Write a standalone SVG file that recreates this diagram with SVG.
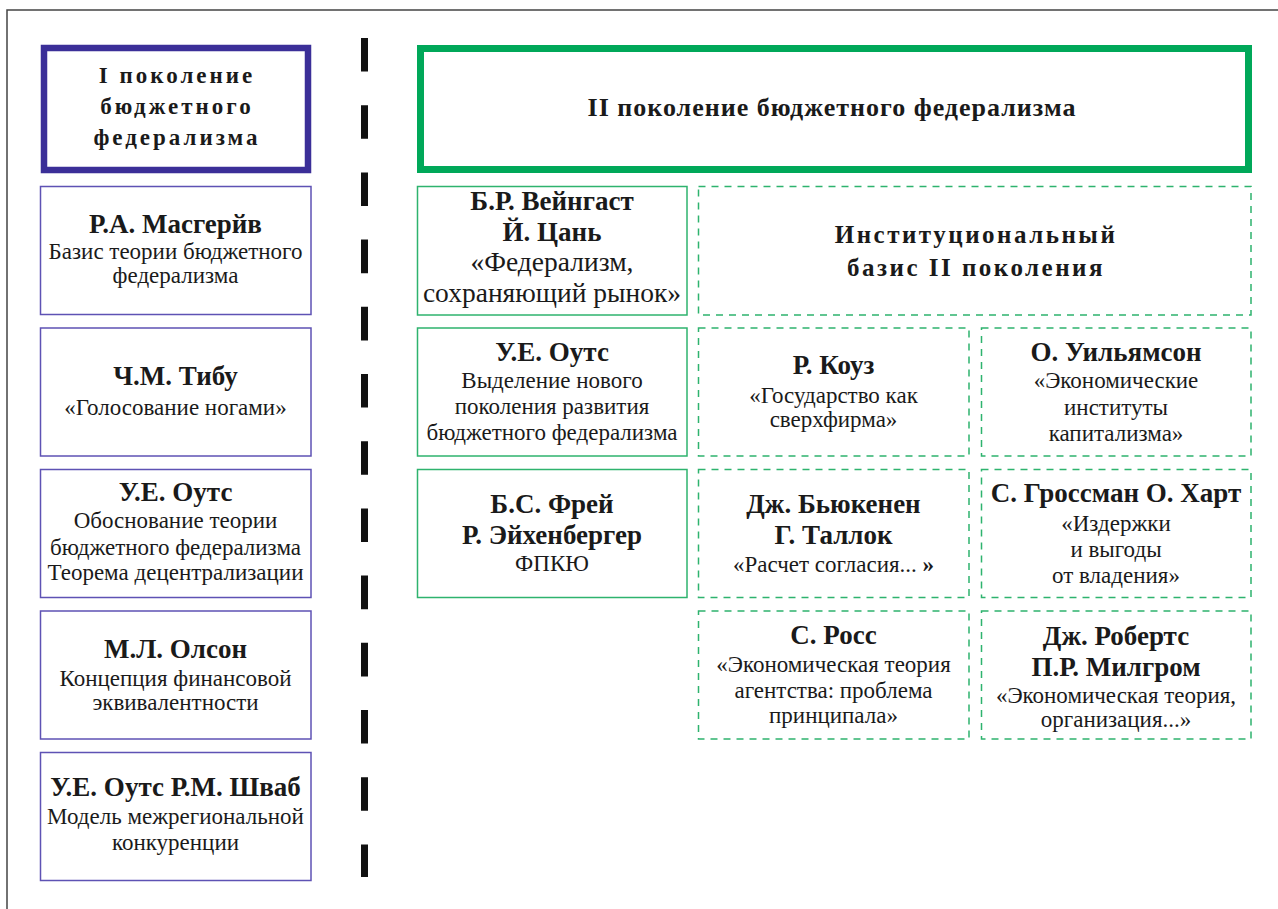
<svg xmlns="http://www.w3.org/2000/svg" width="1278" height="909" viewBox="0 0 1278 909" font-family="Liberation Serif, Times New Roman, serif">
<rect width="1278" height="909" fill="#fff"/>
<g id="frame" fill="none" stroke="#444" stroke-width="1.5">
<path d="M7 909V10H1278"/>
</g>
<g id="connectors">
<line x1="364.5" y1="38" x2="364.5" y2="877" stroke="#111" stroke-width="7" stroke-dasharray="33.6 33.6"/>
</g>
<g id="gen1-title" fill="#1a1a1a" text-anchor="middle" font-weight="bold" font-size="23" letter-spacing="3">
<rect x="44" y="48" width="264" height="122" fill="#fff" stroke="#3b2f98" stroke-width="6.5"/>
<text font-family="Liberation Serif, Times New Roman, serif" x="177" y="83">I поколение</text>
<text font-family="Liberation Serif, Times New Roman, serif" x="177" y="114">бюджетного</text>
<text font-family="Liberation Serif, Times New Roman, serif" x="177" y="145">федерализма</text>
</g>
<g id="musgrave" fill="#1a1a1a" text-anchor="middle" font-size="23">
<rect x="40.5" y="186.5" width="270.5" height="128" fill="#fff" stroke="#5e52b4" stroke-width="1.5"/>
<text font-family="Liberation Serif, Times New Roman, serif" font-weight="bold" font-size="27" x="175.5" y="233">Р.А. Масгерйв</text>
<text font-family="Liberation Serif, Times New Roman, serif" x="175.5" y="259">Базис теории бюджетного</text>
<text font-family="Liberation Serif, Times New Roman, serif" x="175.5" y="283">федерализма</text>
</g>
<g id="tiebout" fill="#1a1a1a" text-anchor="middle" font-size="23">
<rect x="40.5" y="328" width="270.5" height="128" fill="#fff" stroke="#5e52b4" stroke-width="1.5"/>
<text font-family="Liberation Serif, Times New Roman, serif" font-weight="bold" font-size="27" x="175.5" y="385">Ч.М. Тибу</text>
<text font-family="Liberation Serif, Times New Roman, serif" x="175.5" y="415">«Голосование ногами»</text>
</g>
<g id="oates1" fill="#1a1a1a" text-anchor="middle" font-size="23">
<rect x="40.5" y="469.5" width="270.5" height="128" fill="#fff" stroke="#5e52b4" stroke-width="1.5"/>
<text font-family="Liberation Serif, Times New Roman, serif" font-weight="bold" font-size="27" x="175.5" y="501">У.Е. Оутс</text>
<text font-family="Liberation Serif, Times New Roman, serif" x="175.5" y="528">Обоснование теории</text>
<text font-family="Liberation Serif, Times New Roman, serif" x="175.5" y="555">бюджетного федерализма</text>
<text font-family="Liberation Serif, Times New Roman, serif" x="175.5" y="580">Теорема децентрализации</text>
</g>
<g id="olson" fill="#1a1a1a" text-anchor="middle" font-size="23">
<rect x="40.5" y="611" width="270.5" height="128" fill="#fff" stroke="#5e52b4" stroke-width="1.5"/>
<text font-family="Liberation Serif, Times New Roman, serif" font-weight="bold" font-size="27" x="175.5" y="658">М.Л. Олсон</text>
<text font-family="Liberation Serif, Times New Roman, serif" x="175.5" y="686">Концепция финансовой</text>
<text font-family="Liberation Serif, Times New Roman, serif" x="175.5" y="710">эквивалентности</text>
</g>
<g id="oates-schwab" fill="#1a1a1a" text-anchor="middle" font-size="23">
<rect x="40.5" y="752.5" width="270.5" height="128" fill="#fff" stroke="#5e52b4" stroke-width="1.5"/>
<text font-family="Liberation Serif, Times New Roman, serif" font-weight="bold" font-size="27" x="175.5" y="796">У.Е. Оутс Р.М. Шваб</text>
<text font-family="Liberation Serif, Times New Roman, serif" x="175.5" y="824">Модель межрегиональной</text>
<text font-family="Liberation Serif, Times New Roman, serif" x="175.5" y="850">конкуренции</text>
</g>
<g id="gen2-title" fill="#1a1a1a" text-anchor="middle">
<rect x="420.5" y="48.5" width="828" height="121" fill="#fff" stroke="#00a859" stroke-width="7"/>
<text font-family="Liberation Serif, Times New Roman, serif" font-weight="bold" font-size="26" letter-spacing="1" x="832" y="116">II поколение бюджетного федерализма</text>
</g>
<g id="weingast" fill="#1a1a1a" text-anchor="middle" font-size="27.5">
<rect x="417.5" y="186.5" width="269.5" height="128.5" fill="#fff" stroke="#2eb36e" stroke-width="1.5"/>
<text font-family="Liberation Serif, Times New Roman, serif" font-weight="bold" font-size="27" x="552" y="210">Б.Р. Вейнгаст</text>
<text font-family="Liberation Serif, Times New Roman, serif" font-weight="bold" font-size="27" x="552" y="241">Й. Цань</text>
<text font-family="Liberation Serif, Times New Roman, serif" x="552" y="271">«Федерализм,</text>
<text font-family="Liberation Serif, Times New Roman, serif" x="552" y="302">сохраняющий рынок»</text>
</g>
<g id="institutional" fill="#1a1a1a" text-anchor="middle" font-weight="bold" font-size="25" letter-spacing="2.5">
<rect x="698.5" y="186.5" width="552.5" height="128.5" fill="#fff" stroke="#2eb36e" stroke-width="1.5" stroke-dasharray="7 6"/>
<text font-family="Liberation Serif, Times New Roman, serif" x="976" y="243">Институциональный</text>
<text font-family="Liberation Serif, Times New Roman, serif" x="976" y="276">базис II поколения</text>
</g>
<g id="oates2" fill="#1a1a1a" text-anchor="middle" font-size="23">
<rect x="417.5" y="328" width="269.5" height="128" fill="#fff" stroke="#2eb36e" stroke-width="1.5"/>
<text font-family="Liberation Serif, Times New Roman, serif" font-weight="bold" font-size="27" x="552" y="361">У.Е. Оутс</text>
<text font-family="Liberation Serif, Times New Roman, serif" x="552" y="388">Выделение нового</text>
<text font-family="Liberation Serif, Times New Roman, serif" x="552" y="414">поколения развития</text>
<text font-family="Liberation Serif, Times New Roman, serif" x="552" y="440">бюджетного федерализма</text>
</g>
<g id="coase" fill="#1a1a1a" text-anchor="middle" font-size="23">
<rect x="698.5" y="328" width="270.5" height="128" fill="#fff" stroke="#2eb36e" stroke-width="1.5" stroke-dasharray="7 6"/>
<text font-family="Liberation Serif, Times New Roman, serif" font-weight="bold" font-size="27" x="833.5" y="374">Р. Коуз</text>
<text font-family="Liberation Serif, Times New Roman, serif" x="833.5" y="403">«Государство как</text>
<text font-family="Liberation Serif, Times New Roman, serif" x="833.5" y="427">сверхфирма»</text>
</g>
<g id="williamson" fill="#1a1a1a" text-anchor="middle" font-size="23">
<rect x="981.5" y="328" width="269.5" height="128" fill="#fff" stroke="#2eb36e" stroke-width="1.5" stroke-dasharray="7 6"/>
<text font-family="Liberation Serif, Times New Roman, serif" font-weight="bold" font-size="27" x="1116" y="361">О. Уильямсон</text>
<text font-family="Liberation Serif, Times New Roman, serif" x="1116" y="388">«Экономические</text>
<text font-family="Liberation Serif, Times New Roman, serif" x="1116" y="415">институты</text>
<text font-family="Liberation Serif, Times New Roman, serif" x="1116" y="441">капитализма»</text>
</g>
<g id="frey" fill="#1a1a1a" text-anchor="middle" font-size="23">
<rect x="417.5" y="469.5" width="269.5" height="128" fill="#fff" stroke="#2eb36e" stroke-width="1.5"/>
<text font-family="Liberation Serif, Times New Roman, serif" font-weight="bold" font-size="27" x="552" y="513">Б.С. Фрей</text>
<text font-family="Liberation Serif, Times New Roman, serif" font-weight="bold" font-size="27" x="552" y="544">Р. Эйхенбергер</text>
<text font-family="Liberation Serif, Times New Roman, serif" x="552" y="571">ФПКЮ</text>
</g>
<g id="buchanan" fill="#1a1a1a" text-anchor="middle" font-size="23">
<rect x="698.5" y="469.5" width="270.5" height="128" fill="#fff" stroke="#2eb36e" stroke-width="1.5" stroke-dasharray="7 6"/>
<text font-family="Liberation Serif, Times New Roman, serif" font-weight="bold" font-size="27" x="833.5" y="513">Дж. Бьюкенен</text>
<text font-family="Liberation Serif, Times New Roman, serif" font-weight="bold" font-size="27" x="833.5" y="544">Г. Таллок</text>
<text font-family="Liberation Serif, Times New Roman, serif" x="833.5" y="572">«Расчет согласия... <tspan font-weight="bold">»</tspan></text>
</g>
<g id="grossman" fill="#1a1a1a" text-anchor="middle" font-size="23">
<rect x="981.5" y="469.5" width="269.5" height="128" fill="#fff" stroke="#2eb36e" stroke-width="1.5" stroke-dasharray="7 6"/>
<text font-family="Liberation Serif, Times New Roman, serif" font-weight="bold" font-size="27" x="1116" y="502">С. Гроссман О. Харт</text>
<text font-family="Liberation Serif, Times New Roman, serif" x="1116" y="531">«Издержки</text>
<text font-family="Liberation Serif, Times New Roman, serif" x="1116" y="557">и выгоды</text>
<text font-family="Liberation Serif, Times New Roman, serif" x="1116" y="583">от владения»</text>
</g>
<g id="ross" fill="#1a1a1a" text-anchor="middle" font-size="23">
<rect x="698.5" y="611" width="270.5" height="128" fill="#fff" stroke="#2eb36e" stroke-width="1.5" stroke-dasharray="7 6"/>
<text font-family="Liberation Serif, Times New Roman, serif" font-weight="bold" font-size="27" x="833.5" y="644">С. Росс</text>
<text font-family="Liberation Serif, Times New Roman, serif" x="833.5" y="672">«Экономическая теория</text>
<text font-family="Liberation Serif, Times New Roman, serif" x="833.5" y="698">агентства: проблема</text>
<text font-family="Liberation Serif, Times New Roman, serif" x="833.5" y="723">принципала»</text>
</g>
<g id="roberts" fill="#1a1a1a" text-anchor="middle" font-size="23">
<rect x="981.5" y="611" width="269.5" height="128" fill="#fff" stroke="#2eb36e" stroke-width="1.5" stroke-dasharray="7 6"/>
<text font-family="Liberation Serif, Times New Roman, serif" font-weight="bold" font-size="27" x="1116" y="645">Дж. Робертс</text>
<text font-family="Liberation Serif, Times New Roman, serif" font-weight="bold" font-size="27" x="1116" y="676">П.Р. Милгром</text>
<text font-family="Liberation Serif, Times New Roman, serif" x="1116" y="703">«Экономическая теория,</text>
<text font-family="Liberation Serif, Times New Roman, serif" x="1116" y="727">организация...»</text>
</g>
</svg>
